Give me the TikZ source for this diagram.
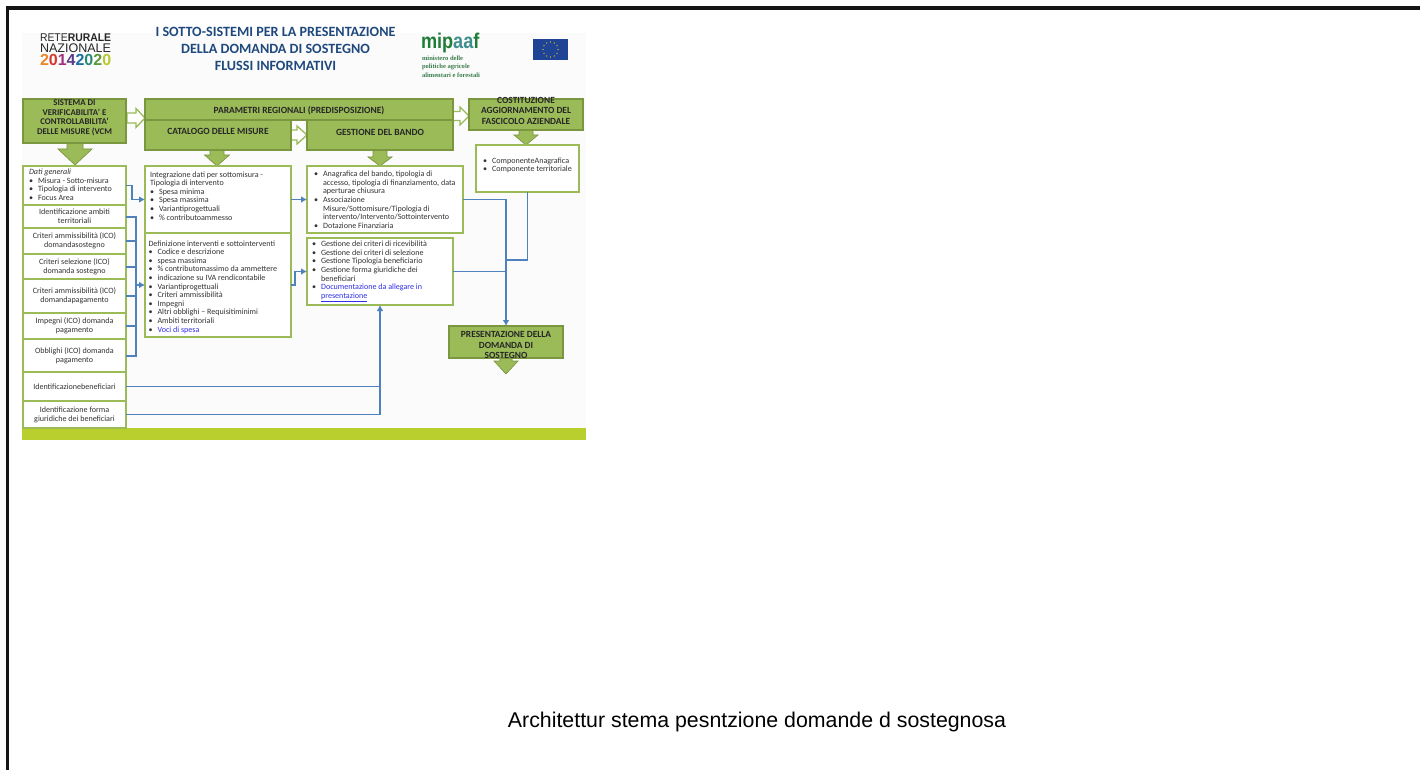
\documentclass[tikz,border=0pt]{standalone}
\usepackage{fontspec}
\setmainfont{Carlito}
\newfontfamily\capfont{Liberation Sans}
\newfontfamily\logofont{Liberation Sans}
\newfontfamily\minfont{Liberation Serif}
\usetikzlibrary{arrows.meta}
\definecolor{hgreen}{HTML}{9BBB59}
\definecolor{hedge}{HTML}{7A963F}
\definecolor{wblue}{HTML}{4F81BD}
\definecolor{titleblue}{HTML}{1F497D}
\definecolor{bar}{HTML}{B9CF2E}
\definecolor{txtc}{HTML}{333333}
\definecolor{linkc}{HTML}{3030E8}
\definecolor{mipg}{HTML}{1E7D36}
\definecolor{eublue}{HTML}{1F4496}
\tikzset{
 x=0.75pt,y=-0.75pt,
 every node/.style={inner sep=0pt,outer sep=0pt,text=txtc},
 hdr/.style={draw=hedge,fill=hgreen,line width=0.8pt,align=center,text=black!85},
 hdrs/.style={hdr,font=\fontsize{6.6}{7.1}\selectfont\bfseries},
 hdrm/.style={hdr,font=\fontsize{7.05}{7.9}\selectfont\bfseries},
 wbox/.style={draw=hgreen,fill=white,line width=1pt},
 wire/.style={draw=wblue,line width=1pt},
 wirethick/.style={draw=wblue,line width=1.5pt},
 tip/.style={-{Latex[length=4.5pt,width=5pt]}},
 downarrow/.style={draw=hedge,fill=hgreen,line width=0.5pt},
 hollow/.style={draw=hgreen,fill=white,line width=1pt},
 txt/.style={font=\fontsize{6.05}{6.75}\selectfont},
}
\newcommand\bx[7]{\node[#1,minimum width={(#5-#3)*0.75pt},minimum height={(#6-#4)*0.75pt}] (#2) at ({(#3+#5)/2},{(#4+#6)/2}) {#7};}
% centred text, shifted up by #1 px, with no effect on the size of its node
\newlength\upl
\newcommand\up[2]{\setlength\upl{#1pt}\setlength\upl{0.75\upl}\addtolength\upl{-1.6pt}\raisebox{\upl}[0pt][0pt]{\makebox[0pt][c]{\parbox[c]{250pt}{\centering #2}}}}
% top-aligned text: pad-left, pad-top, width, height (px)
\newlength\lw\newlength\lh\newlength\lx\newlength\ly
\newcommand\tl[5]{\setlength\lw{#3pt}\setlength\lw{0.75\lw}\setlength\lh{#4pt}\setlength\lh{0.75\lh}\setlength\lx{#1pt}\setlength\lx{0.75\lx}\setlength\ly{#2pt}\setlength\ly{0.75\ly}%
 \begin{minipage}[c][\lh][t]{\lw}\vspace*{\ly}\raggedright\fontsize{6.05}{6.45}\selectfont\leftskip=\lx\parindent=0pt #5\end{minipage}}
\newcommand\bl[1]{\par\hangindent=6.8pt\hangafter=1\noindent\makebox[6.8pt][l]{\textbullet}#1}
\newcommand\darr[7]{\filldraw[downarrow] (#1-#5,#2) -- (#1-#5,#6) -- (#1-#4,#6) -- (#1,#3) -- (#1+#4,#6) -- (#1+#5,#6) -- (#1+#5,#2) -- cycle;}
\newcommand\harr[7]{\filldraw[hollow] (#1,#4-#7) -- (#3,#4-#7) -- (#3,#4-#6) -- (#2,#4) -- (#3,#4+#6) -- (#3,#4+#7) -- (#1,#4+#7) -- cycle;}
\begin{document}
\begin{tikzpicture}
\useasboundingbox (0,0) rectangle (1420,770);
\fill[white] (0,0) rectangle (1420,770);
% slide
\fill[black!1.5] (22,33) rectangle (586,428);
\fill[bar] (22,428) rectangle (586,440);
% frame
\draw[black!92,line width=2.4pt] (1420,8) -- (7.5,8) -- (7.5,770);
% caption
\node[font=\capfont\fontsize{16}{18}\selectfont,text=black] (caption) at (757,721.5) {Architettur stema pesntzione domande d sostegnosa};
% title
\node[font=\fontsize{10.6}{12.8}\selectfont\bfseries,text=titleblue,align=center] (title) at (275.5,49) {I SOTTO-SISTEMI PER LA PRESENTAZIONE\\DELLA DOMANDA DI SOSTEGNO\\FLUSSI INFORMATIVI};
% logos
\node[anchor=base west,font=\logofont\fontsize{8.4}{8.6}\selectfont,text=black!85] (rete) at (40,42) {\scalebox{0.93}[1]{RETE\textbf{RURALE}}};
\node[anchor=base west,font=\logofont\fontsize{9.4}{9.6}\selectfont,text=black!85] (naz) at (40,53) {NAZIONALE};
\node[anchor=base west,font=\logofont\bfseries\fontsize{12}{12}\selectfont] (anni) at (40,66) {\textcolor[HTML]{E8862A}{2}\textcolor[HTML]{D8352A}{0}\textcolor[HTML]{A0307A}{1}\textcolor[HTML]{5A3A8A}{4}\textcolor[HTML]{1A6FA0}{2}\textcolor[HTML]{2A8A7A}{0}\textcolor[HTML]{5A9A3A}{2}\textcolor[HTML]{B9C82E}{0}};
\node[anchor=base west,font=\logofont\bfseries\fontsize{16}{16}\selectfont,text=mipg] (mip) at (421,49) {\scalebox{0.85}[1]{mip\textcolor[HTML]{3F8F8F}{aa}f}};
\node[anchor=north west,align=left,font=\minfont\bfseries\fontsize{4.9}{6.4}\selectfont,text=mipg!70!gray] (minis) at (422,55.5) {ministero delle\\politiche agricole\\alimentari e forestali};
\fill[eublue] (533,39) rectangle (568,60);
\foreach \a in {0,30,...,330} \fill[yellow!85!orange] ({550.5+7.5*cos(\a)},{49.5+7.5*sin(\a)}) circle (0.7);
% big arrows under the green boxes
\darr{75}{143}{165}{17}{8}{149}{}
\darr{217}{150}{166}{12.5}{7}{155}{}
\darr{380}{150}{166}{12}{7}{157}{}
\darr{526}{130}{145}{12}{7}{135}{}
\darr{506}{358}{374}{12}{6}{361}{}
% hollow arrows
\harr{127}{145}{136}{118}{}{9.5}{5}
\harr{291}{307}{297}{135}{}{9}{5}
\harr{453}{469}{460}{116}{}{9}{4.5}
% green headers
\bx{hdrs}{vcm}{23}{99}{126}{143}{\up{3}{SISTEMA DI\\VERIFICABILITA' E\\CONTROLLABILITA'\\DELLE MISURE (VCM}}
\bx{hdrm,font=\fontsize{7.1}{8}\selectfont\bfseries}{param}{145}{99}{453}{120}{\up{-1}{PARAMETRI REGIONALI (PREDISPOSIZIONE)}}
\bx{hdrm,font=\fontsize{7.1}{8}\selectfont\bfseries}{catalogo}{145}{120}{291}{150}{\up{3.5}{CATALOGO DELLE MISURE}}
\bx{hdrm,font=\fontsize{7.1}{8}\selectfont\bfseries}{gestband}{307}{120}{453}{150}{\up{2.5}{GESTIONE DEL BANDO}}
\bx{hdrm}{fasc}{469}{99}{583}{130}{\up{3.5}{COSTITUZIONE\\AGGIORNAMENTO DEL\\FASCICOLO AZIENDALE}}
\bx{hdrm}{pres}{449}{326}{563}{358}{\up{-3.5}{PRESENTAZIONE DELLA\\DOMANDA DI\\SOSTEGNO}}
% left column
\bx{wbox}{dati}{23}{166}{126}{205}{\tl{6}{3}{103}{39}{\textit{Dati generali}\bl{Misura - Sotto-misura}\bl{Tipologia di intervento}\bl{Focus Area}}}
\bx{wbox,txt}{ambiti}{23}{205}{126}{228}{\up{0}{Identificazione ambiti\\territoriali}}
\bx{wbox,txt}{ams}{23}{228}{126}{254}{\up{0}{Criteri ammissibilità (ICO)\\domandasostegno}}
\bx{wbox,txt}{sel}{23}{254}{126}{279}{\up{0}{Criteri selezione (ICO)\\domanda sostegno}}
\bx{wbox,txt}{amp}{23}{279}{126}{313}{\up{0}{Criteri ammissibilità (ICO)\\domandapagamento}}
\bx{wbox,txt}{imp}{23}{313}{126}{339}{\up{0}{Impegni (ICO) domanda\\pagamento}}
\bx{wbox,txt}{obb}{23}{339}{126}{372}{\up{0}{Obblighi (ICO) domanda\\pagamento}}
\bx{wbox,txt}{benef}{23}{372}{126}{401}{\up{0}{Identificazionebeneficiari}}
\bx{wbox,txt}{forme}{23}{401}{126}{428}{\up{0}{Identificazione forma\\giuridiche dei beneficiari}}
% middle column
\bx{wbox}{integr}{145}{166}{291}{233}{\tl{5}{5.5}{146}{67}{Integrazione dati per sottomisura -\\Tipologia di intervento\bl{Spesa minima}\bl{Spesa massima}\bl{Variantiprogettuali}\bl{\% contributoammesso}}}
\bx{wbox}{defin}{145}{233}{291}{337}{\tl{3.5}{7.5}{146}{104}{Definizione interventi e sottointerventi\bl{Codice e descrizione}\bl{spesa massima}\bl{\% contributomassimo da ammettere}\bl{indicazione su IVA rendicontabile}\bl{Variantiprogettuali}\bl{Criteri ammissibilità}\bl{Impegni}\bl{Altri obblighi – Requisitiminimi}\bl{Ambiti territoriali}\bl{\textcolor{linkc}{Voci di spesa}}}}
% right column
\bx{wbox}{bando}{307}{166}{463}{233}{\tl{7}{5}{156}{67}{\bl{Anagrafica del bando, tipologia di\newline accesso, tipologia di finanziamento, data\newline aperturae chiusura}\bl{Associazione\newline Misure/Sottomisure/Tipologia di\newline intervento/Intervento/Sottointervento}\bl{Dotazione Finanziaria}}}
\bx{wbox}{gest}{307}{238}{453}{305}{\tl{5}{3}{146}{67}{\bl{Gestione dei criteri di ricevibilità}\bl{Gestione dei criteri di selezione}\bl{Gestione Tipologia beneficiario}\bl{Gestione forma giuridiche dei\newline beneficiari}\bl{\textcolor{linkc}{Documentazione da allegare in}\newline\textcolor{linkc}{\underline{presentazione}}}}}
\bx{wbox}{comp}{476}{145}{579}{192}{\tl{7}{13}{103}{47}{\fontsize{6.05}{6.2}\selectfont\bl{ComponenteAnagrafica}\bl{Componente territoriale}}}
% connectors
\coordinate (busb) at (136,300);
\coordinate (mj) at (506,260);
\draw[wire,tip] (dati.east) -- ++(6,0) |- (integr.west);
\draw[wirethick] (ambiti.east) -- (ambiti.east -| busb) -- (obb.east -| busb) -- (obb.east);
\draw[wire] (ams.east) -- (ams.east -| busb);
\draw[wirethick] (sel.east) -- (sel.east -| busb);
\draw[wire] (amp.east) -- (amp.east -| busb);
\draw[wire] (imp.east) -- (imp.east -| busb);
\draw[wirethick,tip] (defin.west -| busb) -- (defin.west);
\draw[wire,tip] (integr.east) -- (bando.west);
\draw[wire,tip] (defin.east) -- ++(4,0) |- (gest.west);
\draw[wire] (bando.east) -| (mj);
\draw[wire] (gest.east) -- (gest.east -| mj);
\draw[wire] (comp.south) |- (mj);
\draw[wirethick,tip] (mj) -- (pres.north);
\draw[wire] (benef.east) -- (benef.east -| gest.south);
\draw[wire,tip] (forme.east) -| (gest.south);
\end{tikzpicture}
\end{document}
